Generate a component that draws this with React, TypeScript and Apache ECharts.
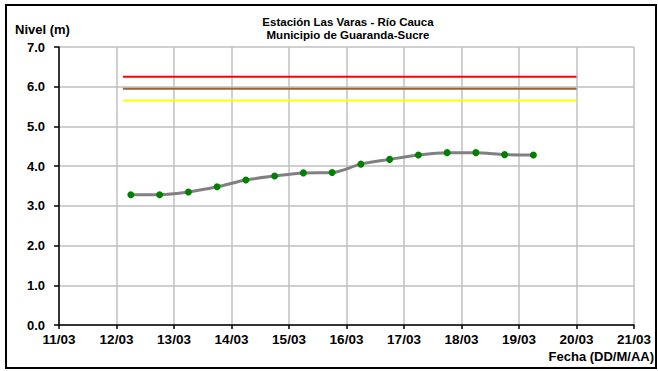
import React, { useEffect, useRef } from "react";
import * as echarts from "echarts";

const titleLines = ["Estación Las Varas - Río Cauca", "Municipio de Guaranda-Sucre"];
const yAxisName = "Nivel (m)";
const xAxisName = "Fecha (DD/M/AA)";
const xTickLabels = ["11/03", "12/03", "13/03", "14/03", "15/03", "16/03", "17/03", "18/03", "19/03", "20/03", "21/03"];

const readingTimes = [
  "12/03 06:00", "12/03 18:00", "13/03 06:00", "13/03 18:00", "14/03 06:00",
  "14/03 18:00", "15/03 06:00", "15/03 18:00", "16/03 06:00", "16/03 18:00",
  "17/03 06:00", "17/03 18:00", "18/03 06:00", "18/03 18:00", "19/03 06:00",
];
const levels = [3.28, 3.28, 3.35, 3.48, 3.65, 3.75, 3.83, 3.84, 4.05, 4.17, 4.28, 4.34, 4.34, 4.29, 4.28];

const thresholdStart = "12/03 02:40";
const thresholdEnd = "20/03 00:00";
const redLevel = 6.25;
const brownLevel = 5.95;
const yellowLevel = 5.65;

const FONT = "'Liberation Sans', Arial, sans-serif";

function toDays(s: string): number {
  const [d, t] = s.split(" ");
  const day = parseInt(d.split("/")[0], 10);
  const [hh, mm] = t.split(":").map((v) => parseInt(v, 10));
  return day - 11 + (hh + mm / 60) / 24;
}

export default function App() {
  const ref = useRef<HTMLDivElement>(null);
  useEffect(() => {
    document.body.style.margin = "0";
    if (!ref.current) return;
    const chart = echarts.init(ref.current, undefined, { renderer: "svg" });
    const x0 = toDays(thresholdStart);
    const x1 = toDays(thresholdEnd);
    const hline = (v: number, color: string) => ({
      type: "line",
      data: [[x0, v], [x1, v]],
      symbol: "none",
      lineStyle: { color, width: 2 },
      silent: true,
      z: 2,
    });
    const titleTexts = titleLines.map((t, i) => ({
      type: "text",
      x: 348,
      y: 21.5 + i * 13,
      style: {
        text: t,
        fill: "#000",
        font: `bold 11.5px ${FONT}`,
        textAlign: "center",
        textVerticalAlign: "middle",
      },
    }));
    chart.setOption({
      animation: false,
      grid: { left: 59, right: 24, top: 47, bottom: 46, containLabel: false },
      graphic: [
        {
          type: "rect",
          shape: { x: 6, y: 5, width: 650, height: 363 },
          style: { fill: "none", stroke: "#000", lineWidth: 2 },
          z: 100,
        },
        ...titleTexts,
        {
          type: "text",
          x: 15,
          y: 29,
          style: {
            text: yAxisName,
            fill: "#000",
            font: `bold 13px ${FONT}`,
            textVerticalAlign: "middle",
          },
        },
        {
          type: "text",
          x: 654,
          y: 356,
          style: {
            text: xAxisName,
            fill: "#000",
            font: `bold 13px ${FONT}`,
            textAlign: "right",
            textVerticalAlign: "middle",
          },
        },
      ],
      xAxis: {
        type: "value",
        min: 0,
        max: 10,
        interval: 1,
        axisLine: { show: true, lineStyle: { color: "#000", width: 1.5 } },
        axisTick: { show: true, length: 4, lineStyle: { color: "#000", width: 1.5 } },
        axisLabel: {
          color: "#000",
          fontFamily: FONT,
          fontWeight: "bold",
          fontSize: 13.5,
          margin: 7,
          formatter: (v: number) => xTickLabels[Math.round(v)] ?? "",
        },
        splitLine: { show: true, lineStyle: { color: "#c0c0c0", width: 1.5 } },
      },
      yAxis: {
        type: "value",
        min: 0,
        max: 7,
        interval: 1,
        axisLine: { show: true, lineStyle: { color: "#000", width: 1.5 } },
        axisTick: { show: true, length: 5, lineStyle: { color: "#000", width: 1.5 } },
        axisLabel: {
          color: "#000",
          fontFamily: FONT,
          fontWeight: "bold",
          fontSize: 13,
          margin: 14,
          formatter: (v: number) => v.toFixed(1),
        },
        splitLine: { show: true, lineStyle: { color: "#c0c0c0", width: 1.5 } },
      },
      series: [
        hline(redLevel, "#ff0000"),
        hline(brownLevel, "#996633"),
        hline(yellowLevel, "#ffff00"),
        {
          type: "line",
          data: readingTimes.map((t, i) => [toDays(t), levels[i]]),
          smooth: 0.3,
          symbol: "circle",
          symbolSize: 7,
          lineStyle: { color: "#808080", width: 3 },
          itemStyle: { color: "#008000" },
          z: 3,
        },
      ],
    });
    return () => chart.dispose();
  }, []);
  return <div ref={ref} style={{ width: 658, height: 371 }} />;
}
